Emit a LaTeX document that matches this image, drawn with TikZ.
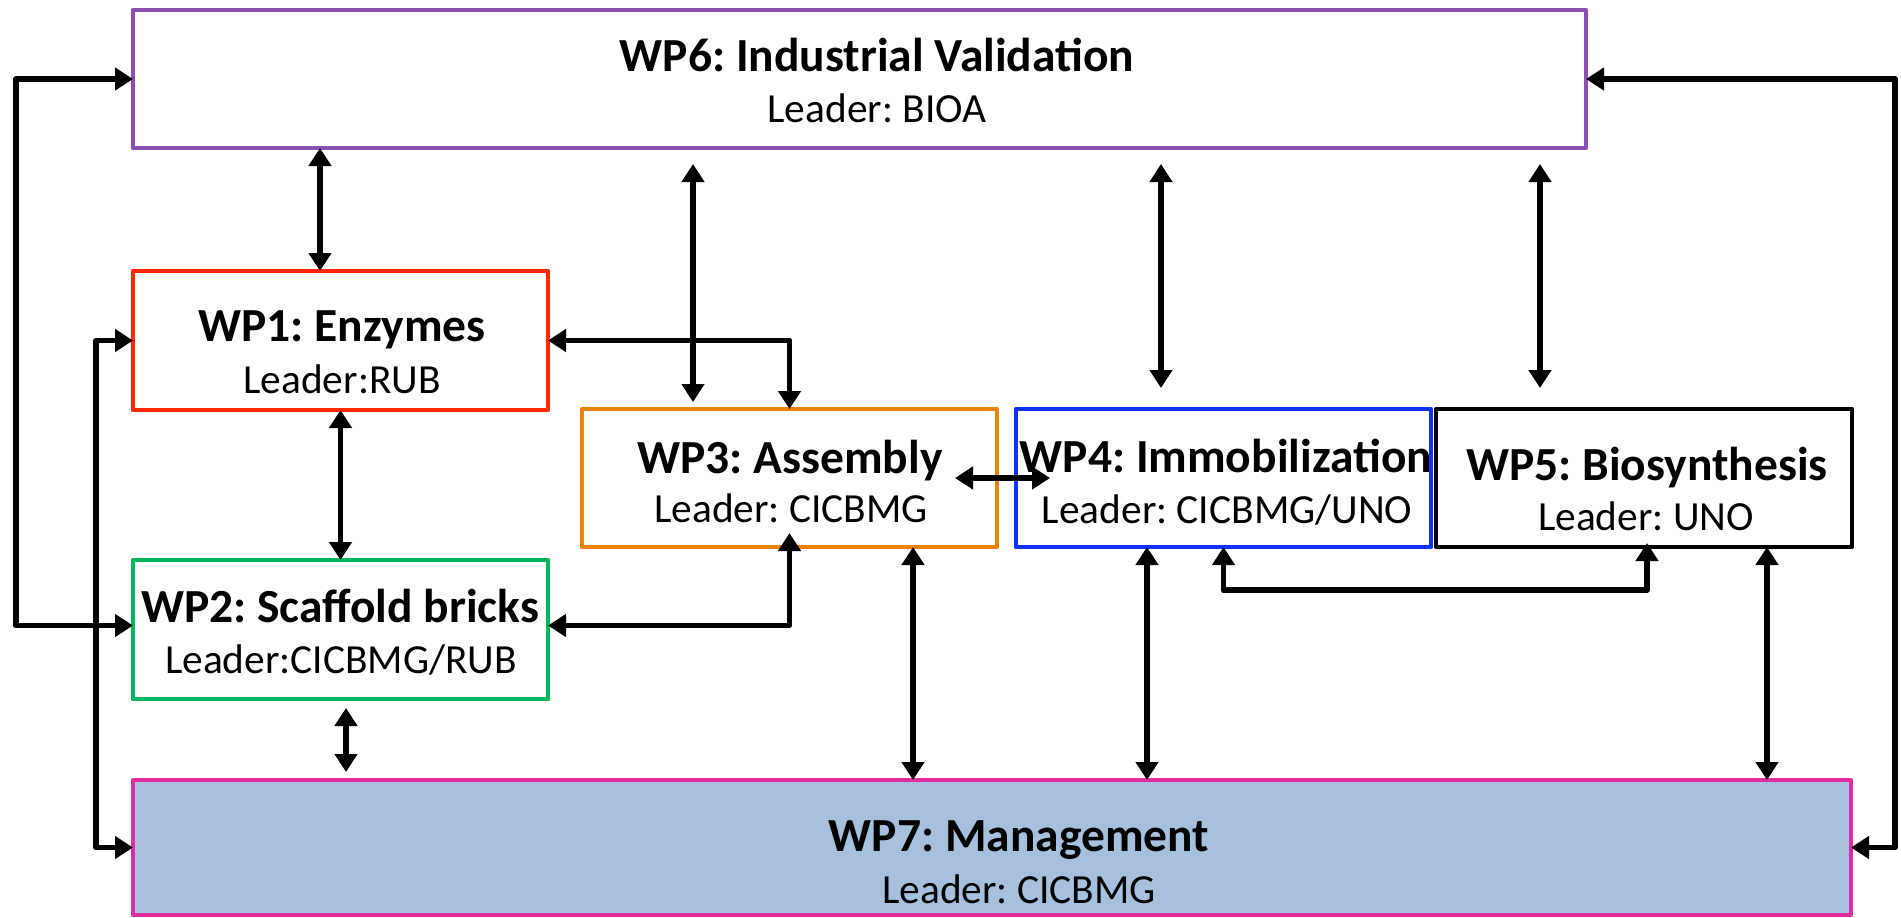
\documentclass[tikz,border=0pt]{standalone}
\usepackage{fontspec}
\setmainfont{Carlito}
\usetikzlibrary{arrows.meta}
\frenchspacing
\definecolor{cpurple}{RGB}{140,80,180}
\definecolor{cred}{RGB}{255,40,0}
\definecolor{cgreen}{RGB}{0,185,95}
\definecolor{corange}{RGB}{235,130,10}
\definecolor{cblue}{RGB}{15,50,255}
\definecolor{cpink}{RGB}{225,45,160}
\definecolor{cfill}{RGB}{166,192,222}
\tikzset{
  wpbox/.style={draw=#1, line width=2.4pt, rectangle, inner sep=0pt, outer sep=0pt, line join=round},
  hd/.style={anchor=base, inner sep=0pt, font=\frenchspacing\bfseries\fontsize{23.75}{28}\selectfont},
  ld/.style={anchor=base, inner sep=0pt, font=\frenchspacing\fontsize{20.7}{25}\selectfont},
  conn/.style={draw=black, line width=2.9pt, line join=round,
    {Triangle[length=9pt,width=11pt]}-{Triangle[length=9pt,width=11pt]}}
}
\begin{document}
\begin{tikzpicture}[x=0.5pt,y=-0.5pt]
\useasboundingbox (0,0) rectangle (1901,917);
% boxes
\node[wpbox=cpurple, minimum width=726.5pt, minimum height=69pt] (wp6) at (859.5,79) {};
\node[wpbox=cred, minimum width=207.5pt, minimum height=69.5pt] (wp1) at (340.5,340.5) {};
\node[wpbox=cgreen, minimum width=207.5pt, minimum height=69.5pt] (wp2) at (340.5,629.5) {};
\node[wpbox=corange, minimum width=207.5pt, minimum height=69pt] (wp3) at (789.5,478) {};
\node[wpbox=cblue, minimum width=207.5pt, minimum height=69pt] (wp4) at (1223.5,478) {};
\node[wpbox=black, minimum width=208pt, minimum height=69pt] (wp5) at (1644,478) {};
\node[wpbox=cpink, fill=cfill, minimum width=859pt, minimum height=67.5pt] (wp7) at (992,847.5) {};
% texts
\node[hd] (wp6h) at (877,71) {WP6: Industrial Validation};
\node[ld] (wp6l) at (877,122) {Leader: BIOA};
\node[hd] (wp1h) at (342,341) {WP1: Enzymes};
\node[ld] (wp1l) at (342,393) {Leader:RUB};
\node[hd] (wp2h) at (340,622) {WP2: Scaffold bricks};
\node[ld] (wp2l) at (341,673) {Leader:CICBMG/RUB};
\node[hd] (wp3h) at (790,473) {WP3: Assembly};
\node[ld] (wp3l) at (791,522) {Leader: CICBMG};
\node[hd] (wp4h) at (1226,472) {WP4: Immobilization};
\node[ld] (wp4l) at (1227,523) {Leader: CICBMG/UNO};
\node[hd] (wp5h) at (1647,480) {WP5: Biosynthesis};
\node[ld] (wp5l) at (1646,530) {Leader: UNO};
\node[hd] (wp7h) at (1019,851) {WP7: Management};
\node[ld] (wp7l) at (1019,903) {Leader: CICBMG};
% helper coordinates
\coordinate (ll) at (16,0);
\coordinate (li) at (96,0);
\coordinate (rr) at (1895,0);
\coordinate (x320) at (320,0);
\coordinate (x913) at (913,0);
\coordinate (x1147) at (1147,0);
\coordinate (x1767) at (1767,0);
\coordinate (h45) at (1647,590);
\coordinate (wp2w) at ([yshift=2pt]wp2.west);
\coordinate (wp2e) at ([yshift=2pt]wp2.east);
\coordinate (f3t) at (693,164);
\coordinate (f3b) at (693,402);
\coordinate (f4t) at (1161,164);
\coordinate (f4b) at (1161,388);
\coordinate (f5t) at (1540,164);
\coordinate (f5b) at (1540,388);
\coordinate (f27t) at (346,708);
\coordinate (f27b) at (346,772);
% connectors
\draw[conn] (wp6.west) -| (ll |- wp2w) -- (wp2w);
\draw[conn] (wp1.west) -| (li |- wp7.west) -- (wp7.west);
\draw[conn] (wp6.east) -| (rr |- wp7.east) -- (wp7.east);
\draw[conn] (wp6.south -| x320) -- (wp1.north -| x320);
\draw[conn] (f3t) -- (f3b);
\draw[conn] (f4t) -- (f4b);
\draw[conn] (f5t) -- (f5b);
\draw[conn] (wp1.east) -| (wp3.north);
\draw[conn] (wp2e) -| ([yshift=7pt]wp3.south);
\draw[conn] ([xshift=-21pt]wp3.east) -- ([xshift=17pt]wp4.west);
\draw[conn] (wp1.south) -- (wp2.north);
\draw[conn] (f27t) -- (f27b);
\draw[conn] (wp3.south -| x913) -- (wp7.north -| x913);
\draw[conn] (wp4.south -| x1147) -- (wp7.north -| x1147);
\draw[conn] (wp5.south -| x1767) -- (wp7.north -| x1767);
\draw[conn] (wp4.south) |- (h45) -- ([yshift=2pt]wp5.south -| h45);
\end{tikzpicture}
\end{document}
